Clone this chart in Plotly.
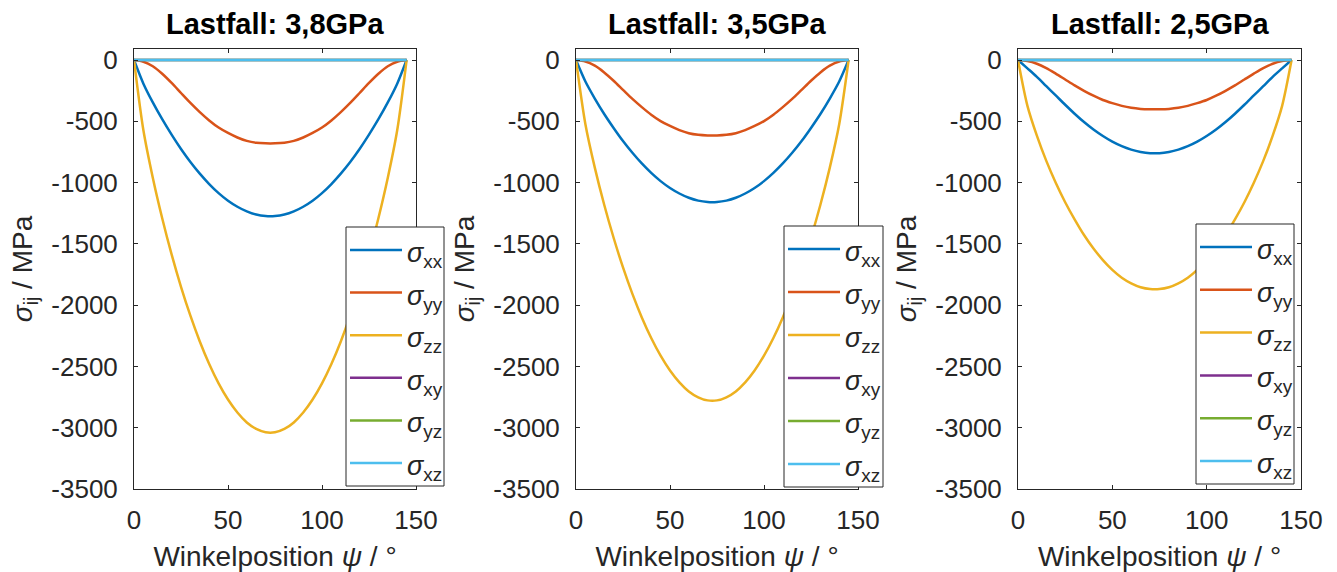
import plotly.graph_objects as go

# ---------------- data ----------------
psi = [0, 5, 10, 15, 20, 25, 30, 35, 40, 45, 50, 55, 60, 65, 70,
       75, 80, 85, 90, 95, 100, 105, 110, 115, 120, 125, 130, 135, 140, 145]

titles = ["Lastfall: 3,8GPa", "Lastfall: 3,5GPa", "Lastfall: 2,5GPa"]

# Lastfall 3,8 GPa
s38_xx = [0, -193, -346, -483, -609, -726, -832, -927, -1012, -1086, -1148, -1197, -1235, -1261, -1273,
          -1273, -1261, -1235, -1197, -1148, -1086, -1012, -927, -832, -726, -609, -483, -346, -193, 0]
s38_yy = [0, -14, -51, -112, -187, -269, -350, -425, -493, -551, -595, -632, -660, -675, -680,
          -680, -675, -660, -632, -595, -551, -493, -425, -350, -269, -187, -112, -51, -14, 0]
s38_zz = [0, -573, -960, -1291, -1586, -1850, -2086, -2296, -2480, -2638, -2770, -2876, -2957, -3010, -3037,
          -3037, -3010, -2957, -2876, -2770, -2638, -2480, -2296, -2086, -1850, -1586, -1291, -960, -573, 0]

# Lastfall 3,5 GPa
s35_xx = [0, -175, -314, -440, -554, -661, -757, -844, -921, -988, -1044, -1089, -1124, -1147, -1158,
          -1158, -1147, -1124, -1089, -1044, -988, -921, -844, -757, -661, -554, -440, -314, -175, 0]
s35_yy = [0, -12, -46, -101, -169, -243, -317, -384, -446, -498, -538, -572, -597, -610, -615,
          -615, -610, -597, -572, -538, -498, -446, -384, -317, -243, -169, -101, -46, -12, 0]
s35_zz = [0, -524, -878, -1181, -1450, -1692, -1908, -2100, -2268, -2412, -2533, -2630, -2704, -2752, -2777,
          -2777, -2752, -2704, -2630, -2533, -2412, -2268, -2100, -1908, -1692, -1450, -1181, -878, -524, 0]

# Lastfall 2,5 GPa
s25_xx = [0, -68, -137, -213, -289, -365, -438, -506, -567, -620, -666, -703, -731, -750, -760,
          -760, -750, -731, -703, -666, -620, -567, -506, -438, -365, -289, -213, -137, -68, 0]
s25_yy = [0, -8, -30, -66, -111, -159, -207, -251, -291, -326, -352, -374, -390, -399, -402,
          -402, -399, -390, -374, -352, -326, -291, -251, -207, -159, -111, -66, -30, -8, 0]
s25_zz = [0, -374, -617, -823, -1001, -1160, -1300, -1428, -1538, -1632, -1712, -1776, -1822, -1854, -1869,
          -1869, -1854, -1822, -1776, -1712, -1632, -1538, -1428, -1300, -1160, -1001, -823, -617, -374, 0]

s_zero = [0] * len(psi)

panels = [
    [s38_xx, s38_yy, s38_zz, s_zero, s_zero, s_zero],
    [s35_xx, s35_yy, s35_zz, s_zero, s_zero, s_zero],
    [s25_xx, s25_yy, s25_zz, s_zero, s_zero, s_zero],
]

series_sub = ["xx", "yy", "zz", "xy", "yz", "xz"]
series_colors = ["#0072BD", "#D95319", "#EDB120", "#7E2F8E", "#77AC30", "#4DBEEE"]

y_ticks = [0, -500, -1000, -1500, -2000, -2500, -3000, -3500]
y_ticktext = ["0", "-500", "-1000", "-1500", "-2000", "-2500", "-3000", "-3500"]
x_ticks = [0, 50, 100, 150]
x_ticktext = ["0", "50", "100", "150"]

# ---------------- layout geometry (pixels) ----------------
W, H = 1337, 572
x_px = [(134, 416), (576, 858), (1018, 1301)]
y_top_px, y_bot_px = 49, 489
legend_box_px = [(346, 227, 444, 486), (784, 226, 883, 487), (1196, 224, 1294, 484)]


def px(xv):
    return xv / W


def py(yv):
    return (H - yv) / H


FONT = "Liberation Sans, Arial, sans-serif"
AX_COLOR = "#262626"

fig = go.Figure()
annotations = []
shapes = []
layout = dict(
    width=W, height=H,
    margin=dict(l=0, r=0, t=0, b=0, autoexpand=False),
    paper_bgcolor="white", plot_bgcolor="white",
    font=dict(family=FONT, color=AX_COLOR, size=26),
    showlegend=False,
)

for p, data in enumerate(panels):
    sfx = "" if p == 0 else str(p + 1)
    for k, vals in enumerate(data):
        fig.add_trace(go.Scatter(
            x=psi, y=vals, mode="lines",
            line=dict(color=series_colors[k], width=2.5, shape="spline", smoothing=0.8),
            name="σ" + series_sub[k],
            xaxis="x" + sfx, yaxis="y" + sfx,
            hoverinfo="skip",
        ))
    layout["xaxis" + sfx] = dict(
        domain=[px(x_px[p][0]), px(x_px[p][1])], anchor="y" + sfx, range=[0, 150], autorange=False,
        automargin=False,
        tickmode="array", tickvals=x_ticks, ticktext=x_ticktext,
        ticks="inside", ticklen=4, tickcolor=AX_COLOR,
        showline=True, linecolor=AX_COLOR, linewidth=1, mirror="ticks",
        showgrid=False, zeroline=False, ticklabelstandoff=8,
        tickfont=dict(size=26, color=AX_COLOR),
        title=dict(text="Winkelposition <i>ψ</i> / °", font=dict(size=28, color=AX_COLOR), standoff=12),
    )
    layout["yaxis" + sfx] = dict(
        domain=[py(y_bot_px), py(y_top_px)], anchor="x" + sfx, range=[-3500, 90], autorange=False,
        automargin=False,
        tickmode="array", tickvals=y_ticks, ticktext=y_ticktext,
        ticks="inside", ticklen=4, tickcolor=AX_COLOR,
        showline=True, linecolor=AX_COLOR, linewidth=1, mirror="ticks",
        showgrid=False, zeroline=False, ticklabelstandoff=10,
        tickfont=dict(size=26, color=AX_COLOR),
        title=dict(text="<i>σ</i><sub>ij</sub> / MPa", font=dict(size=28, color=AX_COLOR), standoff=10),
    )
    # panel title
    annotations.append(dict(
        text="<b>" + titles[p] + "</b>", x=px((x_px[p][0] + x_px[p][1]) / 2), y=py(24),
        xref="paper", yref="paper", xanchor="center", yanchor="middle",
        showarrow=False, font=dict(size=29, color="black", family=FONT),
    ))
    # legend box (MATLAB style)
    bx0, by0, bx1, by1 = legend_box_px[p]
    shapes.append(dict(
        type="rect", xref="paper", yref="paper",
        x0=px(bx0), x1=px(bx1), y0=py(by1), y1=py(by0),
        line=dict(color=AX_COLOR, width=1), fillcolor="white", layer="above",
    ))
    step = (by1 - by0 - 46) / 5.0
    for k in range(len(series_sub)):
        ly = by0 + 23 + k * step
        shapes.append(dict(
            type="line", xref="paper", yref="paper",
            x0=px(bx0 + 4), x1=px(bx0 + 56), y0=py(ly), y1=py(ly),
            line=dict(color=series_colors[k], width=2.5), layer="above",
        ))
        annotations.append(dict(
            text="<i>σ</i><sub>" + series_sub[k] + "</sub>",
            x=px(bx0 + 59), y=py(ly + 5),
            xref="paper", yref="paper", xanchor="left", yanchor="middle",
            showarrow=False, font=dict(size=27, color=AX_COLOR, family=FONT),
        ))

layout["annotations"] = annotations
layout["shapes"] = shapes
fig.update_layout(**layout)
fig.write_html("out.html")
